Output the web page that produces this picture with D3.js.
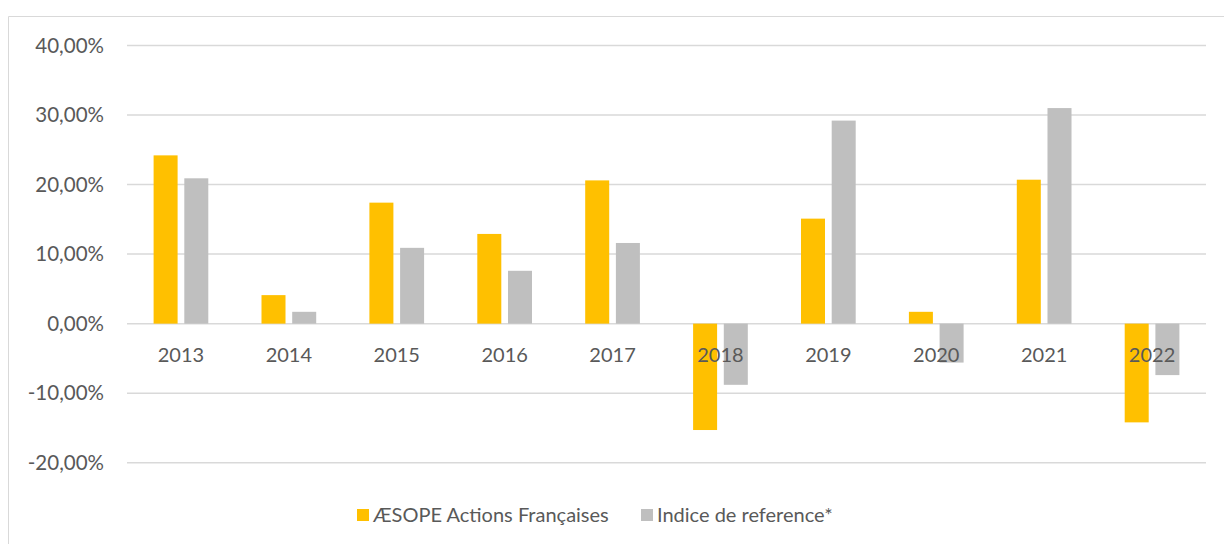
<!DOCTYPE html>
<html>
<head>
<meta charset="utf-8">
<script src="https://cdn.jsdelivr.net/npm/d3@7"></script>
<style>
  body { margin: 0; background: #fff; }
  svg { display: block; font-family: Lato, "Open Sans", sans-serif; }
</style>
</head>
<body>
<div id="chart"></div>
<script>
// Données (en %)
const years = ["2013", "2014", "2015", "2016", "2017", "2018", "2019", "2020", "2021", "2022"];
const series = ["ÆSOPE Actions Françaises", "Indice de reference*"];
const aesope = [24.2, 4.1, 17.4, 12.9, 20.6, -15.3, 15.1, 1.7, 20.7, -14.2];
const indice = [20.9, 1.7, 10.9, 7.6, 11.6, -8.8, 29.2, -5.6, 31.0, -7.4];
const yTicks = [-20, -10, 0, 10, 20, 30, 40];
const colors = ["#FFC000", "#BFBFBF"];

const width = 1224, height = 544;

const data = years.map((y, i) => ({ year: y, values: [aesope[i], indice[i]] }));

const svg = d3.select("#chart").append("svg")
    .attr("width", width)
    .attr("height", height);

// Cadre du graphique
svg.append("path")
    .attr("d", `M8.5,${height} V16.5 H${width}`)
    .attr("fill", "none")
    .attr("stroke", "#d9d9d9")
    .attr("stroke-width", 1);

// Échelles
const x = d3.scaleBand()
    .domain(years)
    .range([127, 1206])
    .paddingInner(0.493)
    .paddingOuter(0.2465);

const x1 = d3.scaleBand()
    .domain(d3.range(series.length))
    .range([0, x.bandwidth()])
    .paddingInner(0.218);

const y = d3.scaleLinear()
    .domain([-20, 40])
    .range([462.7, 45.5]);

// format "40,00%" avec tiret simple
const fmt = d => d3.format(".2f")(d).replace(".", ",").replace("\u2212", "-") + "%";

// Lignes de grille
svg.append("g")
    .selectAll("line")
    .data(yTicks)
    .enter()
    .append("line")
    .attr("x1", 127)
    .attr("x2", 1206)
    .attr("y1", d => y(d))
    .attr("y2", d => y(d))
    .attr("stroke", "#d9d9d9")
    .attr("stroke-width", 1.5);

// Axe Y
const yAxis = svg.append("g")
    .attr("transform", "translate(104,0)")
    .call(d3.axisLeft(y).tickValues(yTicks).tickFormat(fmt).tickSize(0).tickPadding(0));
yAxis.select(".domain").remove();
yAxis.selectAll("text")
    .attr("fill", "#595959")
    .style("font-size", "20.5px")
    .style("font-family", "Lato, 'Open Sans', sans-serif");

// Barres
const groups = svg.append("g")
    .selectAll("g")
    .data(data)
    .enter()
    .append("g")
    .attr("transform", d => `translate(${x(d.year)},0)`);

groups.selectAll("rect")
    .data(d => d.values.map((v, i) => ({ v, i })))
    .enter()
    .append("rect")
    .attr("x", d => x1(d.i))
    .attr("width", x1.bandwidth())
    .attr("y", d => y(Math.max(0, d.v)))
    .attr("height", d => Math.abs(y(d.v) - y(0)))
    .attr("fill", d => colors[d.i]);

// Axe X (étiquettes sous la ligne zéro)
const xAxis = svg.append("g")
    .attr("transform", `translate(0,${y(0)})`)
    .call(d3.axisBottom(x).tickSize(0).tickPadding(24));
xAxis.select(".domain").remove();
xAxis.selectAll("text")
    .attr("fill", "#595959")
    .style("font-size", "20px")
    .style("font-family", "Lato, 'Open Sans', sans-serif");

// Légende
const legendX = [357, 641];
const legend = svg.append("g")
    .selectAll("g")
    .data(series)
    .enter()
    .append("g")
    .attr("transform", (d, i) => `translate(${legendX[i]},509)`);

legend.append("rect")
    .attr("width", 12)
    .attr("height", 12)
    .attr("fill", (d, i) => colors[i]);

legend.append("text")
    .attr("x", 16)
    .attr("y", 6)
    .attr("dy", "0.35em")
    .attr("fill", "#595959")
    .style("font-size", "20px")
    .text(d => d);
</script>
</body>
</html>
